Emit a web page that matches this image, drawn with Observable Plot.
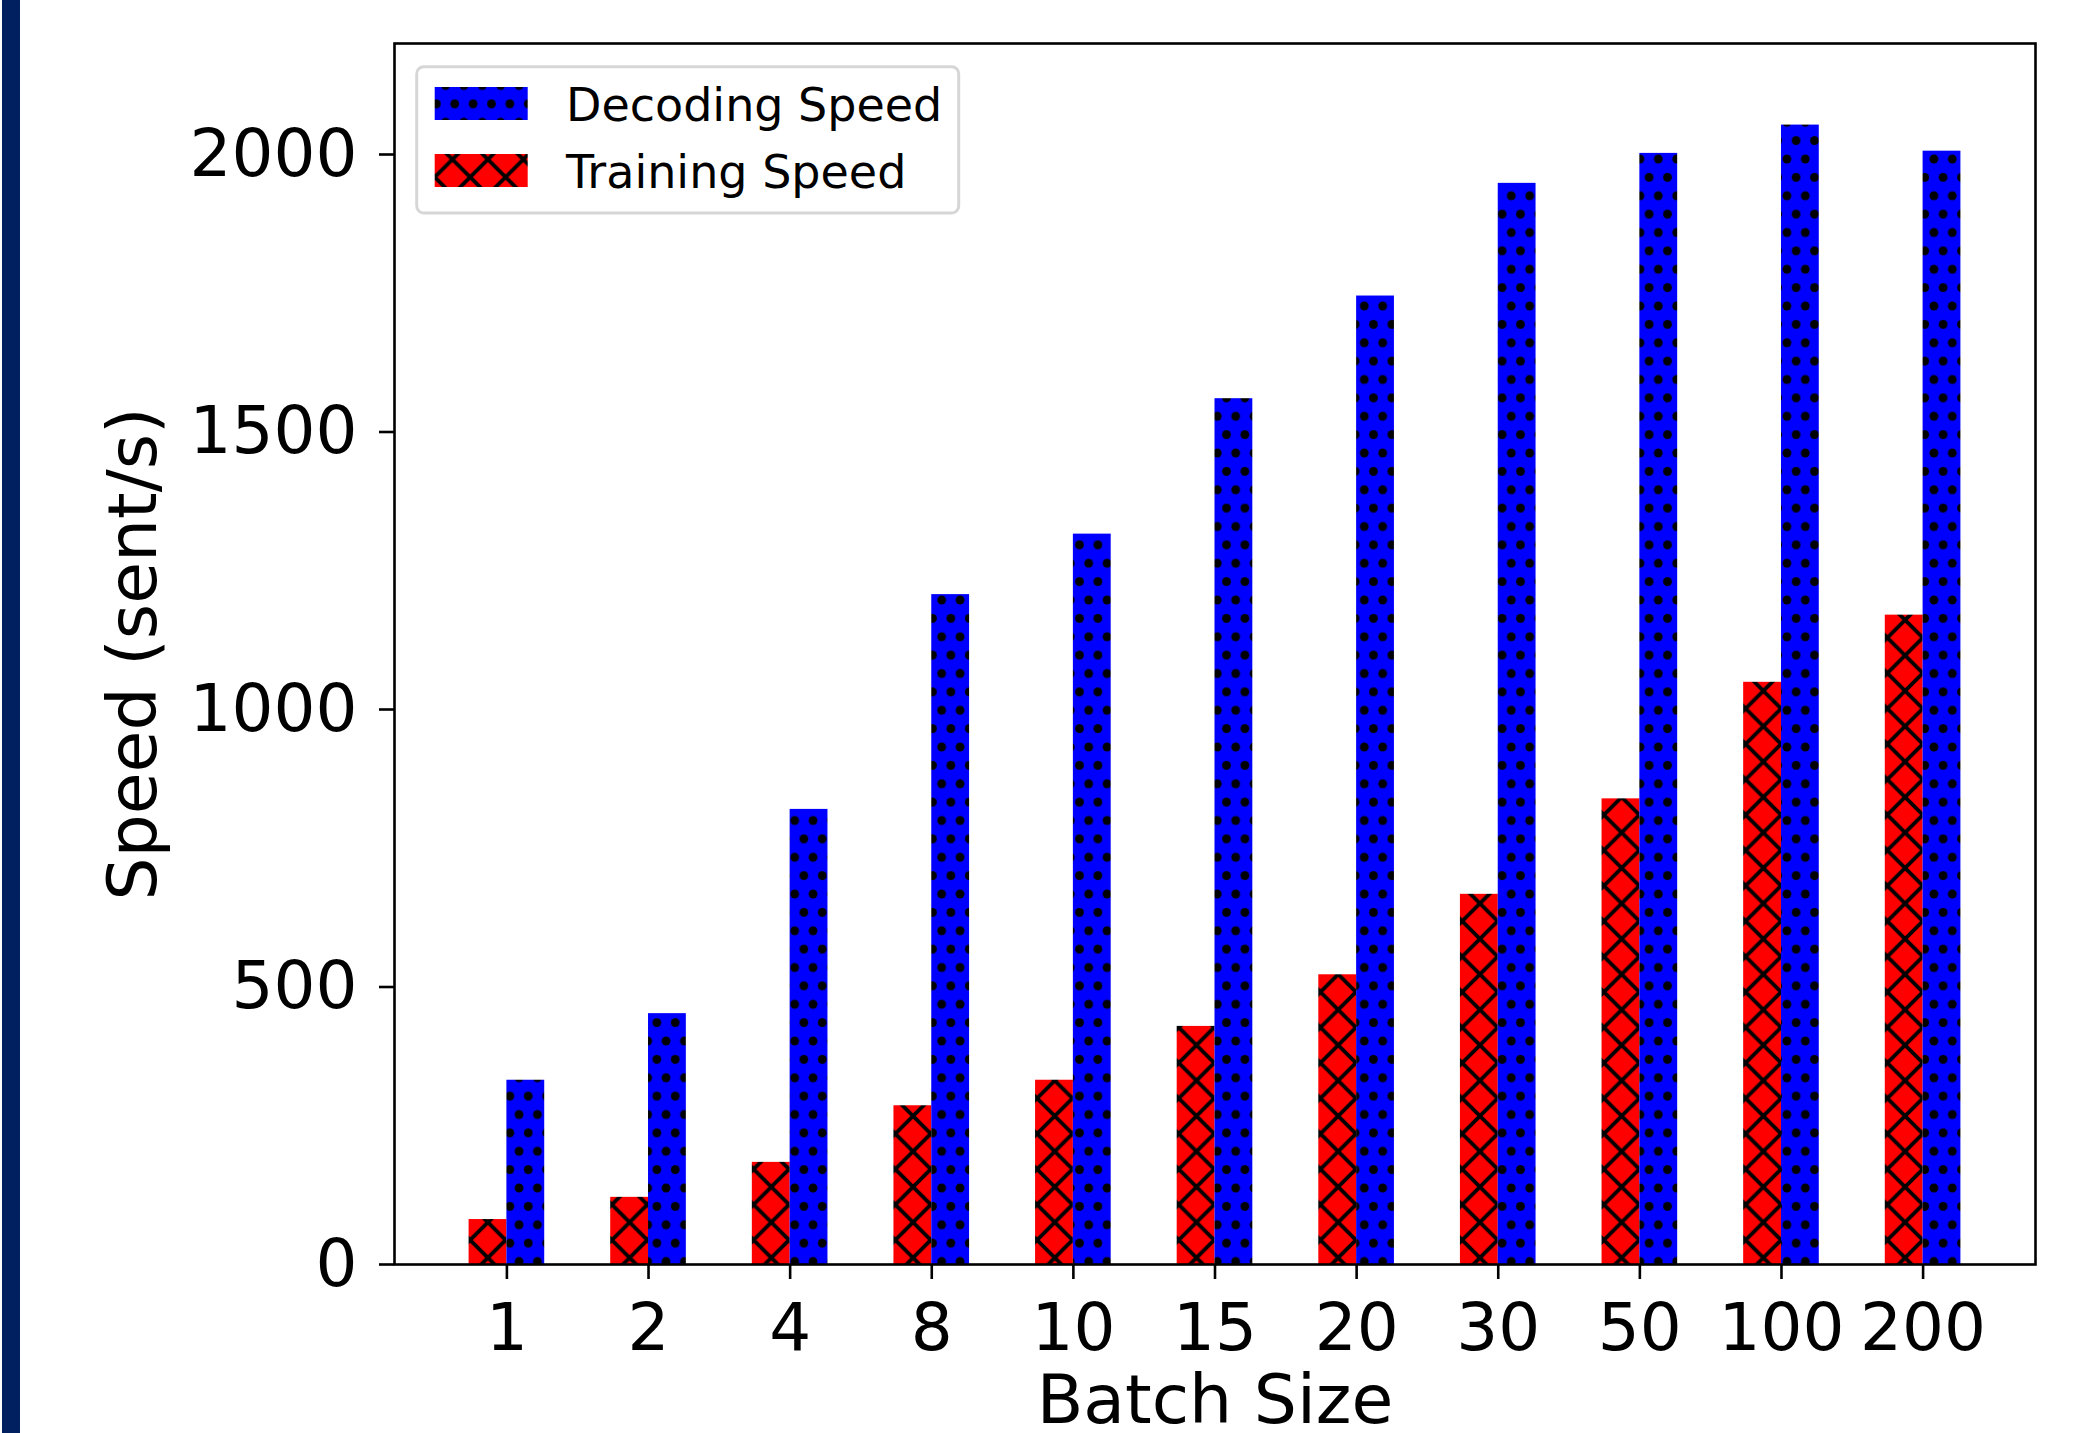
<!DOCTYPE html>
<html>
<head>
<meta charset="utf-8">
<script src="https://cdn.jsdelivr.net/npm/d3@7"></script>
<script src="https://cdn.jsdelivr.net/npm/@observablehq/plot@0.6"></script>
<style>
  html, body { margin: 0; padding: 0; background: #ffffff; }
  #wrap { position: relative; width: 2076px; height: 1433px; overflow: hidden; background: #ffffff; }
  #edge { position: absolute; left: 2px; top: 0; width: 18px; height: 1433px; background: #002060; z-index: 2; }
  #chart { position: absolute; left: 0; top: 0; }
</style>
</head>
<body>
<div id="wrap"><div id="edge"></div><div id="chart"></div></div>
<script>
// ---- data ----
const batchSizes = ["1", "2", "4", "8", "10", "15", "20", "30", "50", "100", "200"];
const decodingSpeed = [332, 452, 820, 1207, 1316, 1560, 1745, 1948, 2002, 2053, 2006];
const trainingSpeed = [81, 121, 184, 286, 332, 429, 522, 667, 839, 1049, 1170];
const seriesNames = ["Decoding Speed", "Training Speed"];
const yTicks = [0, 500, 1000, 1500, 2000];
const yMax = 2200;
const xLabel = "Batch Size";
const yLabel = "Speed (sent/s)";

// ---- layout/style ----
const barW = 0.267; // bar width in category-step units
const n = batchSizes.length;
const rows = batchSizes.flatMap((b, i) => [
  {batch: b, series: seriesNames[1], value: trainingSpeed[i], x1: i - barW, x2: i},
  {batch: b, series: seriesNames[0], value: decodingSpeed[i], x1: i, x2: i + barW}
]);

const svg = Plot.plot({
  width: 2076,
  height: 1433,
  marginLeft: 394,
  marginRight: 41,
  marginTop: 43,
  marginBottom: 169,
  style: {fontFamily: "'DejaVu Sans', sans-serif", fontSize: "66px", color: "#000", background: "#fff"},
  x: {type: "linear", domain: [-0.5 - 1.1 * barW, n - 0.5 + 1.1 * barW], label: null},
  y: {domain: [0, yMax], label: null},
  color: {domain: seriesNames, range: ["url(#dotsPat)", "url(#xPat)"]},
  marks: [
    Plot.rectY(rows, {x1: "x1", x2: "x2", y: "value", fill: "series"}),
    Plot.frame({stroke: "#000", strokeWidth: 2.6}),
    Plot.axisX({ticks: d3.range(n), tickFormat: (i) => batchSizes[i], tickSize: 15, tickPadding: 24,
      fontSize: 66, strokeWidth: 2.6, label: null}),
    Plot.axisY({ticks: yTicks, tickFormat: (d) => String(d), tickSize: 15, tickPadding: 22,
      fontSize: 66, strokeWidth: 2.6, label: null}),
    Plot.text([yLabel], {text: (d) => d, frameAnchor: "left", dx: -260, rotate: -90,
      lineAnchor: "middle", textAnchor: "middle", fontSize: 68, fill: "#000"}),
    Plot.text([xLabel], {text: (d) => d, frameAnchor: "bottom", dy: 158,
      lineAnchor: "bottom", textAnchor: "middle", fontSize: 68, fill: "#000"})
  ]
});

// ---- hatch patterns ----
const s = d3.select(svg);
const defs = s.insert("defs", ":first-child");
const D = 18.375;
const dp = defs.append("pattern").attr("id", "dotsPat").attr("patternUnits", "userSpaceOnUse")
  .attr("x", 4.55).attr("y", 12).attr("width", D).attr("height", 2 * D);
dp.append("rect").attr("width", D).attr("height", 2 * D).attr("fill", "#0000ff");
[[0, 0], [D, 0], [D / 2, D], [0, 2 * D], [D, 2 * D]].forEach(([cx, cy]) =>
  dp.append("circle").attr("cx", cx).attr("cy", cy).attr("r", 4.4).attr("fill", "#000"));

const P = 35.43;
const hp = defs.append("pattern").attr("id", "xPat").attr("patternUnits", "userSpaceOnUse")
  .attr("x", 27.3).attr("y", 17.7).attr("width", P).attr("height", P);
hp.append("rect").attr("width", P).attr("height", P).attr("fill", "#ff0000");
hp.append("path").attr("d", `M0,0L${P},${P}M0,${P}L${P},0`).attr("stroke", "#000")
  .attr("stroke-width", 3.8).attr("fill", "none");

// ---- legend (inside the axes, upper left) ----
const lg = s.append("g").attr("font-family", "'DejaVu Sans', sans-serif").attr("text-anchor", "start");
lg.append("rect").attr("x", 416.7).attr("y", 66.7).attr("width", 542).attr("height", 146.3)
  .attr("rx", 7).attr("fill", "#fff").attr("stroke", "#d6d6d6").attr("stroke-width", 3);
const legendRows = [
  {name: seriesNames[0], fill: "url(#dotsPat)", y: 87},
  {name: seriesNames[1], fill: "url(#xPat)", y: 154}
];
legendRows.forEach((r) => {
  lg.append("rect").attr("x", 434.7).attr("y", r.y).attr("width", 93).attr("height", 33).attr("fill", r.fill);
  lg.append("text").attr("x", 566).attr("y", r.y + 34).attr("font-size", 46)
    .attr("text-anchor", "start").attr("fill", "#000").text(r.name);
});

document.getElementById("chart").appendChild(svg);
</script>
</body>
</html>
